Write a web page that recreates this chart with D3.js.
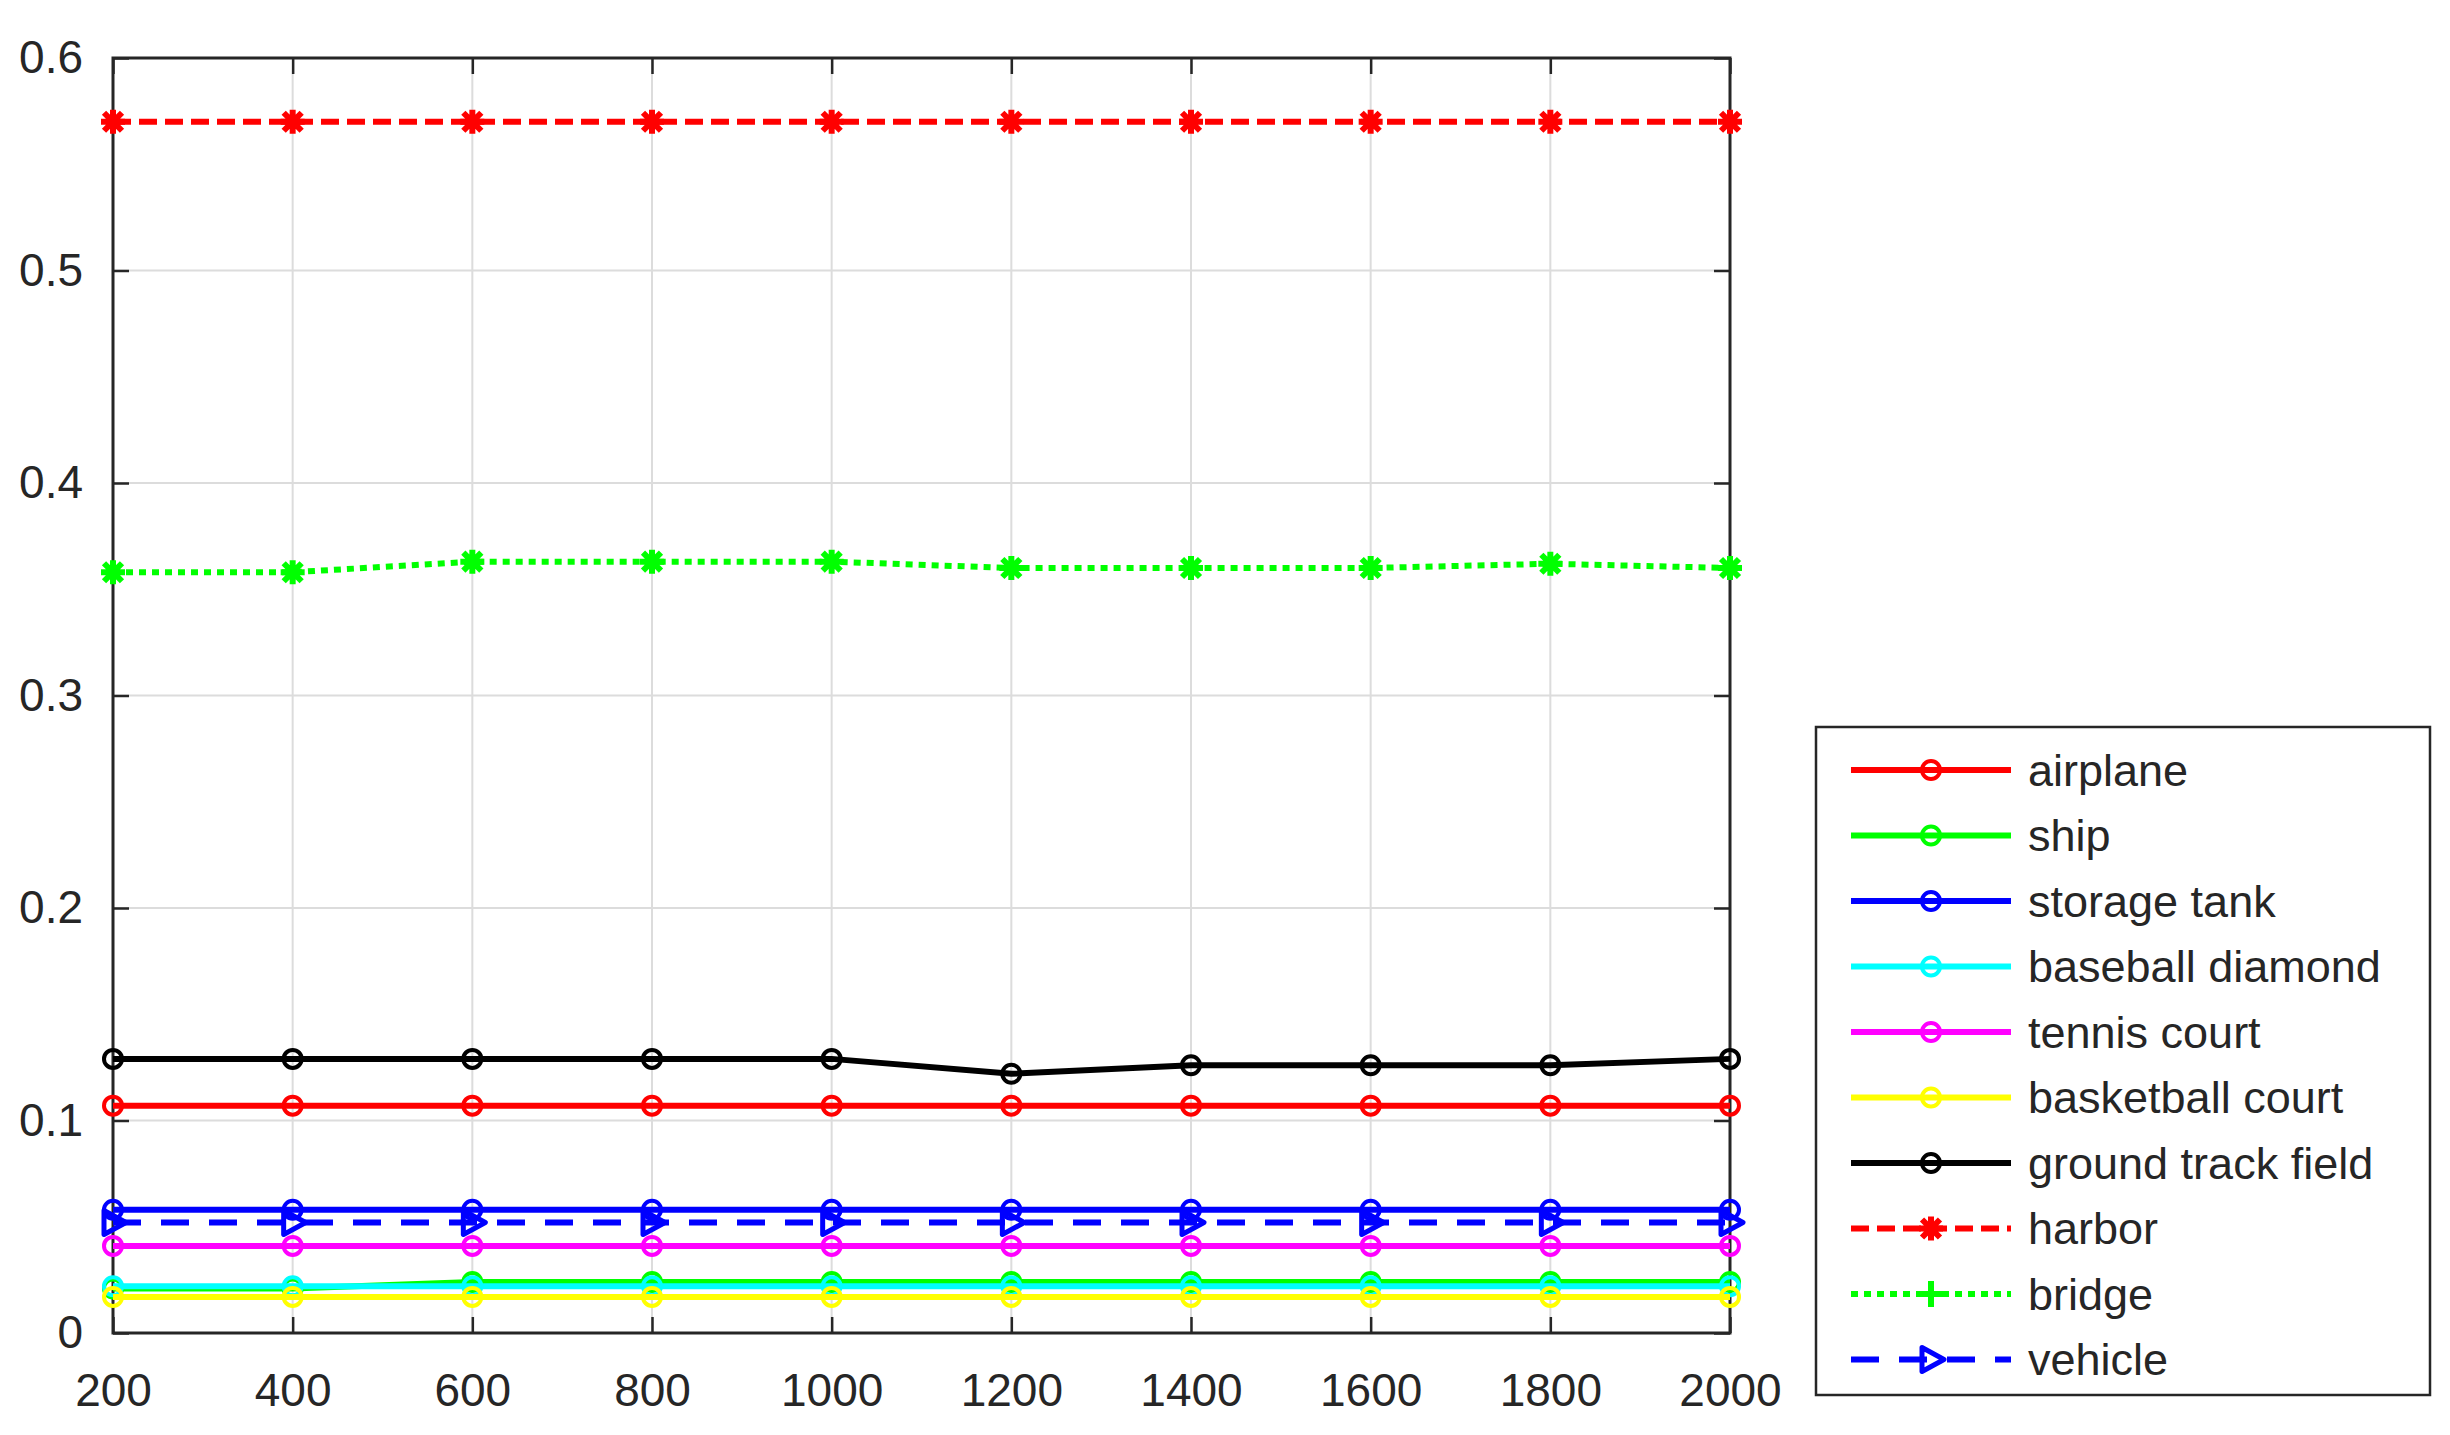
<!DOCTYPE html>
<html>
<head>
<meta charset="utf-8">
<script src="https://cdn.jsdelivr.net/npm/d3@7"></script>
<style>
  body { margin: 0; background: #fff; }
  text { font-family: "Liberation Sans", Arial, sans-serif; fill: #262626; }
</style>
</head>
<body>
<svg id="chart" width="2450" height="1435"></svg>
<script>
const xValues = [200, 400, 600, 800, 1000, 1200, 1400, 1600, 1800, 2000];
const yTicks = [0, 0.1, 0.2, 0.3, 0.4, 0.5, 0.6];

const airplane = [0.107, 0.107, 0.107, 0.107, 0.107, 0.107, 0.107, 0.107, 0.107, 0.107];
const ship = [0.021, 0.021, 0.024, 0.024, 0.024, 0.024, 0.024, 0.024, 0.024, 0.024];
const storageTank = [0.058, 0.058, 0.058, 0.058, 0.058, 0.058, 0.058, 0.058, 0.058, 0.058];
const baseballDiamond = [0.022, 0.022, 0.022, 0.022, 0.022, 0.022, 0.022, 0.022, 0.022, 0.022];
const tennisCourt = [0.041, 0.041, 0.041, 0.041, 0.041, 0.041, 0.041, 0.041, 0.041, 0.041];
const basketballCourt = [0.017, 0.017, 0.017, 0.017, 0.017, 0.017, 0.017, 0.017, 0.017, 0.017];
const groundTrackField = [0.129, 0.129, 0.129, 0.129, 0.129, 0.122, 0.126, 0.126, 0.126, 0.129];
const harbor = [0.57, 0.57, 0.57, 0.57, 0.57, 0.57, 0.57, 0.57, 0.57, 0.57];
const bridge = [0.358, 0.358, 0.363, 0.363, 0.363, 0.360, 0.360, 0.360, 0.362, 0.360];
const vehicle = [0.052, 0.052, 0.052, 0.052, 0.052, 0.052, 0.052, 0.052, 0.052, 0.052];

const series = [
  { name: "airplane", values: airplane, color: "#ff0000", dash: null, marker: "circle" },
  { name: "ship", values: ship, color: "#00ff00", dash: null, marker: "circle" },
  { name: "storage tank", values: storageTank, color: "#0000ff", dash: null, marker: "circle" },
  { name: "baseball diamond", values: baseballDiamond, color: "#00ffff", dash: null, marker: "circle" },
  { name: "tennis court", values: tennisCourt, color: "#ff00ff", dash: null, marker: "circle" },
  { name: "basketball court", values: basketballCourt, color: "#ffff00", dash: null, marker: "circle" },
  { name: "ground track field", values: groundTrackField, color: "#000000", dash: null, marker: "circle" },
  { name: "harbor", values: harbor, color: "#ff0000", dash: "18,8", marker: "asterisk" },
  { name: "bridge", values: bridge, color: "#00ff00", dash: "7,6", marker: "asterisk", legendMarker: "plus" },
  { name: "vehicle", values: vehicle, color: "#0000ff", dash: "28,20", marker: "triangle" }
];

const svg = d3.select("#chart");
const mLeft = 113, mRight = 1730, mTop = 58, mBottom = 1333;

const x = d3.scaleLinear().domain([200, 2000]).range([mLeft, mRight]);
const y = d3.scaleLinear().domain([0, 0.6]).range([mBottom, mTop]);

// grid
svg.append("g").selectAll("line").data(xValues.slice(1, -1)).join("line")
  .attr("x1", d => x(d)).attr("x2", d => x(d)).attr("y1", mTop).attr("y2", mBottom)
  .attr("stroke", "#dcdcdc").attr("stroke-width", 2);
svg.append("g").selectAll("line").data(yTicks.slice(1, -1)).join("line")
  .attr("x1", mLeft).attr("x2", mRight).attr("y1", d => y(d)).attr("y2", d => y(d))
  .attr("stroke", "#dcdcdc").attr("stroke-width", 2);

// axes (ticks inward, box)
const axisStyle = g => {
  g.select(".domain").remove();
  g.selectAll(".tick line").attr("stroke", "#262626").attr("stroke-width", 2.5);
  g.selectAll("text").style("font-size", "46px");
};
svg.append("g").attr("transform", `translate(0,${mBottom})`)
  .call(d3.axisBottom(x).tickValues(xValues).tickSize(-16).tickPadding(40).tickFormat(d3.format("d")))
  .call(axisStyle);
svg.append("g").attr("transform", `translate(0,${mTop})`)
  .call(d3.axisTop(x).tickValues(xValues).tickSize(-16).tickFormat(""))
  .call(axisStyle);
svg.append("g").attr("transform", `translate(${mLeft},0)`)
  .call(d3.axisLeft(y).tickValues(yTicks).tickSize(-16).tickPadding(30).tickFormat(d => d === 0 ? "0" : d3.format(".1f")(d)))
  .call(axisStyle);
svg.append("g").attr("transform", `translate(${mRight},0)`)
  .call(d3.axisRight(y).tickValues(yTicks).tickSize(-16).tickFormat(""))
  .call(axisStyle);
svg.append("rect").attr("x", mLeft).attr("y", mTop).attr("width", mRight - mLeft).attr("height", mBottom - mTop)
  .attr("fill", "none").attr("stroke", "#262626").attr("stroke-width", 3);

function drawMarker(g, type, color, cx, cy) {
  if (type === "circle") {
    g.append("circle").attr("cx", cx).attr("cy", cy).attr("r", 9)
      .attr("fill", "none").attr("stroke", color).attr("stroke-width", 4);
  } else if (type === "triangle") {
    g.append("path").attr("transform", `translate(${cx},${cy})`)
      .attr("d", "M-9,-12 L13,0 L-9,12 Z")
      .attr("fill", "none").attr("stroke", color).attr("stroke-width", 5).attr("stroke-linejoin", "round");
  } else if (type === "plus") {
    g.append("path").attr("transform", `translate(${cx},${cy})`)
      .attr("d", "M-13,0 H13 M0,-13 V13")
      .attr("stroke", color).attr("stroke-width", 6);
  } else {
    g.append("path").attr("transform", `translate(${cx},${cy})`)
      .attr("d", "M-12,0 H12 M0,-12 V12 M-9,-9 L9,9 M-9,9 L9,-9")
      .attr("stroke", color).attr("stroke-width", 6);
  }
}

const line = d3.line().x((d, i) => x(xValues[i])).y(d => y(d));
series.forEach(s => {
  const g = svg.append("g");
  g.append("path").datum(s.values).attr("d", line)
    .attr("fill", "none").attr("stroke", s.color).attr("stroke-width", 6)
    .attr("stroke-dasharray", s.dash);
  s.values.forEach((v, i) => drawMarker(g, s.marker, s.color, x(xValues[i]), y(v)));
});

// legend
const lg = svg.append("g");
lg.append("rect").attr("x", 1816).attr("y", 727).attr("width", 614).attr("height", 668)
  .attr("fill", "#fff").attr("stroke", "#262626").attr("stroke-width", 2.5);
series.forEach((s, i) => {
  const ly = 770 + i * 65.5;
  lg.append("line").attr("x1", 1851).attr("x2", 2011).attr("y1", ly).attr("y2", ly)
    .attr("stroke", s.color).attr("stroke-width", 6).attr("stroke-dasharray", s.dash);
  drawMarker(lg, s.legendMarker || s.marker, s.color, 1931, ly);
  lg.append("text").attr("x", 2028).attr("y", ly).attr("dy", "0.35em")
    .style("font-size", "45px").text(s.name);
});
</script>
</body>
</html>
